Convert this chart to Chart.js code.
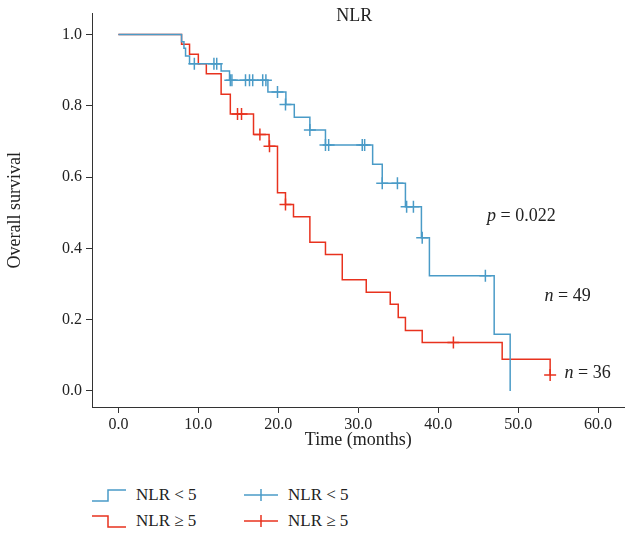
<!DOCTYPE html>
<html><head><meta charset="utf-8">
<script src="https://cdn.jsdelivr.net/npm/chart.js@4"></script>
<style>
body{margin:0;background:#fff;font-family:"Liberation Serif",serif;}
#wrap{position:relative;width:632px;height:455px;}
#legend{position:absolute;left:92px;top:482px;font-size:17px;color:#222;}
.row{display:flex;align-items:center;height:26px;}
.item{display:flex;align-items:center;width:152px;}
.item svg{margin-right:10px;}
</style></head><body>
<div id="wrap"><canvas id="c" width="632" height="455"></canvas></div>
<div id="legend">
 <div class="row"><div class="item"><svg width="34" height="16"><polyline points="0,14 16,14 16,3 34,3" fill="none" stroke="#4a9bc7" stroke-width="1.5"/></svg>NLR &lt; 5</div>
 <div class="item"><svg width="34" height="16"><line x1="0" y1="8" x2="34" y2="8" stroke="#4a9bc7" stroke-width="1.5"/><line x1="17" y1="2" x2="17" y2="14" stroke="#4a9bc7" stroke-width="1.5"/></svg>NLR &lt; 5</div></div>
 <div class="row"><div class="item"><svg width="34" height="16"><polyline points="0,3 16,3 16,14 34,14" fill="none" stroke="#e8321e" stroke-width="1.5"/></svg>NLR ≥ 5</div>
 <div class="item"><svg width="34" height="16"><line x1="0" y1="8" x2="34" y2="8" stroke="#e8321e" stroke-width="1.5"/><line x1="17" y1="2" x2="17" y2="14" stroke="#e8321e" stroke-width="1.5"/></svg>NLR ≥ 5</div></div>
</div>
<script>
const xTicks=[0,10,20,30,40,50,60];
const yTicks=[0,0.2,0.4,0.6,0.8,1.0];
const lowTimes=[0,7.9,8.2,8.4,8.9,12.85,13.9,18.7,20.95,22.0,23.95,25.9,31.8,33.0,35.9,37.9,38.9,47.0,49.0];
const lowSurv=[1.0,0.98,0.962,0.94,0.918,0.898,0.872,0.839,0.804,0.768,0.732,0.69,0.636,0.583,0.517,0.43,0.323,0.159,0.0];
const lowCensT=[9.5,11.95,12.3,14.0,14.2,15.9,16.4,16.8,18.05,18.45,19.9,20.9,23.95,25.9,26.3,30.5,30.8,33.0,34.9,36.05,36.9,38.0,45.9];
const lowCensS=[0.918,0.918,0.918,0.872,0.872,0.872,0.872,0.872,0.872,0.872,0.839,0.804,0.732,0.69,0.69,0.69,0.69,0.583,0.583,0.517,0.517,0.43,0.323];
const highTimes=[0,7.9,8.9,10.0,11.0,12.85,14.0,16.9,18.85,19.9,20.9,21.9,23.95,25.9,28.0,31.0,34.0,35.0,35.9,38.0,48.0,54.0];
const highSurv=[1.0,0.973,0.945,0.918,0.89,0.833,0.777,0.72,0.687,0.556,0.523,0.489,0.417,0.383,0.312,0.277,0.243,0.206,0.17,0.136,0.089,0.045];
const highCensT=[14.9,15.4,17.7,18.9,20.9,41.9,54.0];
const highCensS=[0.777,0.777,0.72,0.687,0.523,0.136,0.045];
const BLUE='#4a9bc7',RED='#e8321e';
const pts=(t,s)=>t.map((x,i)=>({x,y:s[i]}));
const notes={id:'notes',afterDraw(c){const g=c.ctx,xs=c.scales.x,ys=c.scales.y;g.save();g.fillStyle='#222';g.textBaseline='middle';
 const put=(it,rest,x,y)=>{let px=xs.getPixelForValue(x),py=ys.getPixelForValue(y);g.font='italic 18px "Liberation Serif"';g.fillText(it,px,py);let w=g.measureText(it).width;g.font='18px "Liberation Serif"';g.fillText(rest,px+w,py);};
 put('p',' = 0.022',46.1,0.49);put('n',' = 49',53.3,0.265);put('n',' = 36',55.8,0.05);
 g.font='18px "Liberation Serif"';g.textAlign='center';g.fillText('NLR',xs.getPixelForValue(29.5),16);g.restore();}};
new Chart(document.getElementById('c'),{type:'line',
data:{datasets:[
 {data:pts(lowTimes,lowSurv),stepped:'before',borderColor:BLUE,borderWidth:1.5,pointRadius:0,fill:false},
 {data:pts(highTimes,highSurv),stepped:'before',borderColor:RED,borderWidth:1.5,pointRadius:0,fill:false},
 {data:pts(lowCensT,lowCensS),showLine:false,pointStyle:'cross',pointRadius:6,borderColor:BLUE,pointBorderWidth:1.5},
 {data:pts(highCensT,highCensS),showLine:false,pointStyle:'cross',pointRadius:6,borderColor:RED,pointBorderWidth:1.5}
]},
options:{responsive:false,animation:false,events:[],layout:{padding:{top:12,right:2,left:0,bottom:0}},
plugins:{legend:{display:false},tooltip:{enabled:false}},
scales:{
 x:{type:'linear',min:-3.3,max:63.3,afterBuildTicks:a=>{a.ticks=xTicks.map(v=>({value:v}))},afterFit:a=>{a.height=48},
  grid:{drawOnChartArea:false,tickLength:6,color:'#333'},border:{color:'#333',width:1},
  ticks:{color:'#222',font:{family:'Liberation Serif',size:16},padding:2,callback:v=>v.toFixed(1),maxRotation:0},
  title:{display:true,text:'Time (months)',color:'#222',font:{family:'Liberation Serif',size:18},padding:{top:0}}},
 y:{type:'linear',min:-0.045,max:1.059,afterBuildTicks:a=>{a.ticks=yTicks.map(v=>({value:v}))},afterFit:a=>{a.width=92},
  grid:{drawOnChartArea:false,tickLength:6,color:'#333'},border:{color:'#333',width:1},
  ticks:{color:'#222',font:{family:'Liberation Serif',size:16},padding:4,callback:v=>v.toFixed(1)},
  title:{display:true,text:'Overall survival',color:'#222',font:{family:'Liberation Serif',size:18},padding:{bottom:8}}}
}},plugins:[notes]});
</script></body></html>
